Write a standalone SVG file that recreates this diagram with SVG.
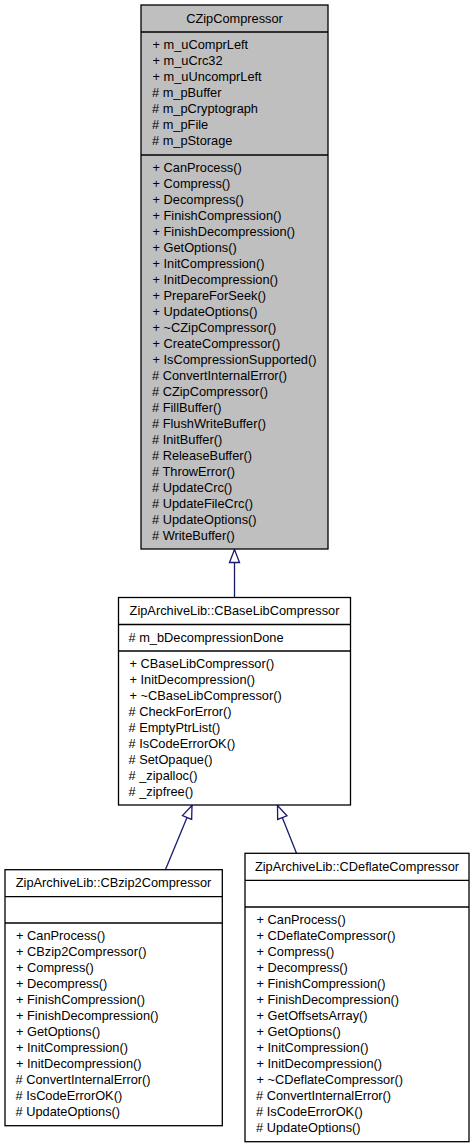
<svg xmlns="http://www.w3.org/2000/svg" width="475" height="1147" viewBox="0 0 475 1147">
<style>
text { font-family: "Liberation Sans", Arial, sans-serif; font-size: 12.8px; fill: #000; }
.h { text-anchor: middle; }
.box { stroke: #000; stroke-width: 1.3; }
.sep { stroke: #000; stroke-width: 1.3; }
.edge { fill: none; stroke: #191970; stroke-width: 1.3; }
</style>
<defs>
<marker id="inh" markerUnits="userSpaceOnUse" markerWidth="16" markerHeight="14" refX="14" refY="7" orient="auto" viewBox="0 0 16 14">
<path d="M1,2 L14,7 L1,12 Z" fill="#fff" stroke="#191970" stroke-width="1.3"/>
</marker>
</defs>
<rect width="475" height="1147" fill="#fff"/>

<g id="connectors">
<path class="edge" d="M234.5,597 L234.5,549.5" marker-end="url(#inh)"/>
<path class="edge" d="M165.5,869.5 L192,805.5" marker-end="url(#inh)"/>
<path class="edge" d="M296.5,853.3 L277.5,805.5" marker-end="url(#inh)"/>
</g>

<g id="CZipCompressor">
<rect class="box" x="141" y="5" width="187" height="544" fill="#bfbfbf"/>
<line class="sep" x1="141" y1="32" x2="328" y2="32"/>
<line class="sep" x1="141" y1="155" x2="328" y2="155"/>
<text class="h" x="234.5" y="23">CZipCompressor</text>
<text x="152.5" y="49">+ m_uComprLeft</text>
<text x="152.5" y="65">+ m_uCrc32</text>
<text x="152.5" y="81">+ m_uUncomprLeft</text>
<text x="152" y="97"># m_pBuffer</text>
<text x="152" y="113"># m_pCryptograph</text>
<text x="152" y="129"># m_pFile</text>
<text x="152" y="145"># m_pStorage</text>
<text x="152.5" y="172">+ CanProcess()</text>
<text x="152.5" y="188">+ Compress()</text>
<text x="152.5" y="204">+ Decompress()</text>
<text x="152.5" y="220">+ FinishCompression()</text>
<text x="152.5" y="236">+ FinishDecompression()</text>
<text x="152.5" y="252">+ GetOptions()</text>
<text x="152.5" y="268">+ InitCompression()</text>
<text x="152.5" y="284">+ InitDecompression()</text>
<text x="152.5" y="300">+ PrepareForSeek()</text>
<text x="152.5" y="316">+ UpdateOptions()</text>
<text x="152.5" y="332">+ ~CZipCompressor()</text>
<text x="152.5" y="348">+ CreateCompressor()</text>
<text x="152.5" y="364">+ IsCompressionSupported()</text>
<text x="152" y="380"># ConvertInternalError()</text>
<text x="152" y="396"># CZipCompressor()</text>
<text x="152" y="412"># FillBuffer()</text>
<text x="152" y="428"># FlushWriteBuffer()</text>
<text x="152" y="444"># InitBuffer()</text>
<text x="152" y="460"># ReleaseBuffer()</text>
<text x="152" y="476"># ThrowError()</text>
<text x="152" y="492"># UpdateCrc()</text>
<text x="152" y="508"># UpdateFileCrc()</text>
<text x="152" y="524"># UpdateOptions()</text>
<text x="152" y="540"># WriteBuffer()</text>
</g>

<g id="CBaseLibCompressor">
<rect class="box" x="118.5" y="597.5" width="232" height="207.5" fill="#fff"/>
<line class="sep" x1="118.5" y1="624.5" x2="350.5" y2="624.5"/>
<line class="sep" x1="118.5" y1="651" x2="350.5" y2="651"/>
<text class="h" x="234.5" y="615">ZipArchiveLib::CBaseLibCompressor</text>
<text x="128.5" y="642"># m_bDecompressionDone</text>
<text x="129.5" y="668">+ CBaseLibCompressor()</text>
<text x="129.5" y="684">+ InitDecompression()</text>
<text x="129.5" y="700">+ ~CBaseLibCompressor()</text>
<text x="128.5" y="716"># CheckForError()</text>
<text x="128.5" y="732"># EmptyPtrList()</text>
<text x="128.5" y="748"># IsCodeErrorOK()</text>
<text x="128.5" y="764"># SetOpaque()</text>
<text x="128.5" y="780"># _zipalloc()</text>
<text x="128.5" y="796"># _zipfree()</text>
</g>

<g id="CBzip2Compressor">
<rect class="box" x="5" y="869.7" width="217.3" height="256" fill="#fff"/>
<line class="sep" x1="5" y1="896.7" x2="222.3" y2="896.7"/>
<line class="sep" x1="5" y1="923" x2="222.3" y2="923"/>
<text class="h" x="113.6" y="887">ZipArchiveLib::CBzip2Compressor</text>
<text x="16" y="940">+ CanProcess()</text>
<text x="16" y="956">+ CBzip2Compressor()</text>
<text x="16" y="972">+ Compress()</text>
<text x="16" y="988">+ Decompress()</text>
<text x="16" y="1004">+ FinishCompression()</text>
<text x="16" y="1020">+ FinishDecompression()</text>
<text x="16" y="1036">+ GetOptions()</text>
<text x="16" y="1052">+ InitCompression()</text>
<text x="16" y="1068">+ InitDecompression()</text>
<text x="15.5" y="1084"># ConvertInternalError()</text>
<text x="15.5" y="1100"># IsCodeErrorOK()</text>
<text x="15.5" y="1116"># UpdateOptions()</text>
</g>

<g id="CDeflateCompressor">
<rect class="box" x="245" y="853.3" width="224" height="288.4" fill="#fff"/>
<line class="sep" x1="245" y1="880.3" x2="469" y2="880.3"/>
<line class="sep" x1="245" y1="907" x2="469" y2="907"/>
<text class="h" x="357" y="871">ZipArchiveLib::CDeflateCompressor</text>
<text x="256.5" y="924">+ CanProcess()</text>
<text x="256.5" y="940">+ CDeflateCompressor()</text>
<text x="256.5" y="956">+ Compress()</text>
<text x="256.5" y="972">+ Decompress()</text>
<text x="256.5" y="988">+ FinishCompression()</text>
<text x="256.5" y="1004">+ FinishDecompression()</text>
<text x="256.5" y="1020">+ GetOffsetsArray()</text>
<text x="256.5" y="1036">+ GetOptions()</text>
<text x="256.5" y="1052">+ InitCompression()</text>
<text x="256.5" y="1068">+ InitDecompression()</text>
<text x="256.5" y="1084">+ ~CDeflateCompressor()</text>
<text x="256" y="1100"># ConvertInternalError()</text>
<text x="256" y="1116"># IsCodeErrorOK()</text>
<text x="256" y="1132"># UpdateOptions()</text>
</g>
</svg>
